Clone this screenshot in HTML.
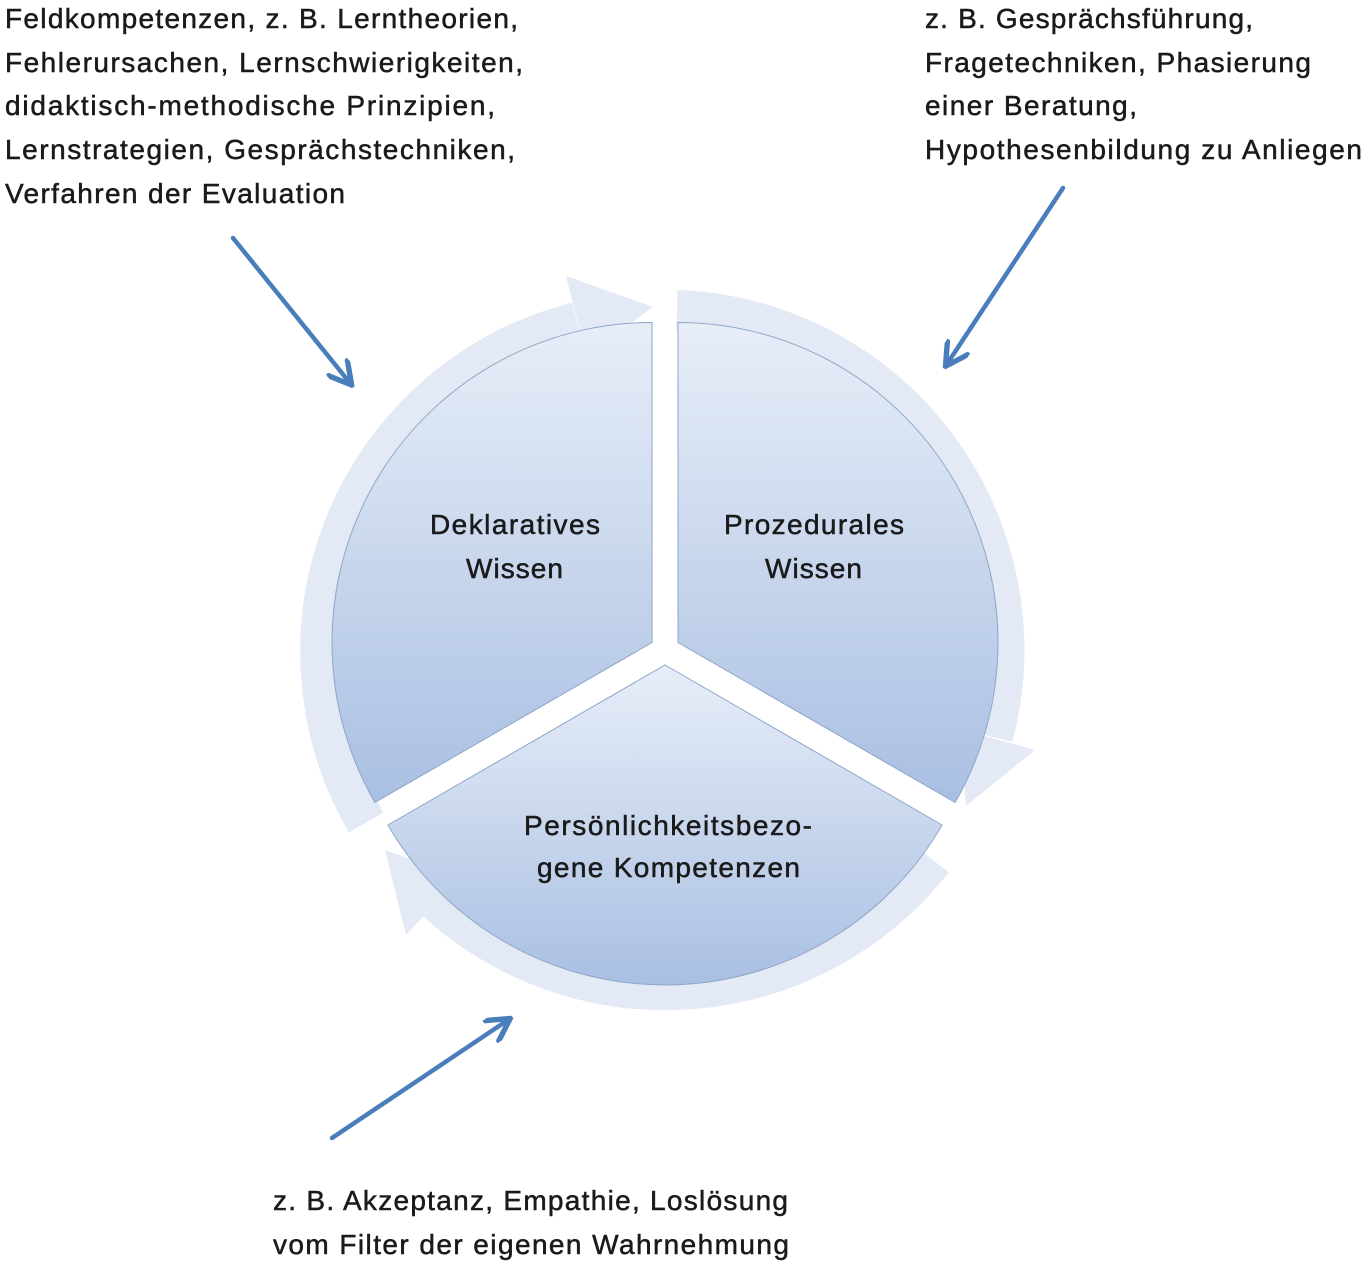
<!DOCTYPE html>
<html><head><meta charset="utf-8"><style>
html,body{margin:0;padding:0;background:#fff}
svg{display:block}
text{font-family:"Liberation Sans",sans-serif;fill:#1a1a1a;stroke:#1a1a1a;stroke-width:0.5}
</style></head><body>
<svg width="1370" height="1265" viewBox="0 0 1370 1265" xmlns="http://www.w3.org/2000/svg">
<defs>
<linearGradient id="g" x1="0" y1="0" x2="0" y2="1">
<stop offset="0" stop-color="#e8eef8"/><stop offset="1" stop-color="#a9bfe2"/>
</linearGradient>
<marker id="ah" viewBox="0 0 10 10" refX="8" refY="5" markerWidth="6" markerHeight="6" orient="auto" markerUnits="strokeWidth">
<path d="M0,0 L9,5 L0,10" fill="none" stroke="#4a7ebb" stroke-width="2"/>
</marker>
</defs>

<g fill="#e3eaf5" stroke="none">
<path d="M366.2,822.5 A340,340 0 0 1 577,322" fill="none" stroke="#e3eaf5" stroke-width="40"/>
<polygon points="586.1,355.4 653,307 566,276"/>
<path d="M677,310 A340,340 0 0 1 993,737" fill="none" stroke="#e3eaf5" stroke-width="40"/>
<polygon points="959.6,728.9 966,806 1035,750"/>
<path d="M933,860 A340,340 0 0 1 437,902" fill="none" stroke="#e3eaf5" stroke-width="40"/>
<polygon points="460.9,876.6 385,850 406,935"/>
</g>

<g fill="url(#g)" stroke="#8fa6c8" stroke-width="1">
<path d="M652,642.5 L374.9,802.5 A320,320 0 0 1 652,322.5 Z"/>
<path d="M678,642.5 L678,322.5 A320,320 0 0 1 955.1,802.5 Z"/>
<path d="M665,665 L942.1,825 A320,320 0 0 1 387.9,825 Z"/>
</g>

<g font-size="28" lengthAdjust="spacingAndGlyphs">
<text x="430" y="534" textLength="170">Deklaratives</text>
<text x="466" y="578" textLength="97">Wissen</text>
<text x="724" y="534" textLength="180">Prozedurales</text>
<text x="765" y="578" textLength="97">Wissen</text>
<text x="524" y="835" textLength="288">Persönlichkeitsbezo-</text>
<text x="537" y="877" textLength="263">gene Kompetenzen</text>

<text x="5" y="28" textLength="513">Feldkompetenzen, z. B. Lerntheorien,</text>
<text x="5" y="72" textLength="518">Fehlerursachen, Lernschwierigkeiten,</text>
<text x="5" y="115" textLength="490">didaktisch-methodische Prinzipien,</text>
<text x="5" y="159" textLength="510">Lernstrategien, Gesprächstechniken,</text>
<text x="5" y="203" textLength="340">Verfahren der Evaluation</text>
<text x="925" y="28" textLength="328">z. B. Gesprächsführung,</text>
<text x="925" y="72" textLength="386">Fragetechniken, Phasierung</text>
<text x="925" y="115" textLength="212">einer Beratung,</text>
<text x="925" y="159" textLength="437">Hypothesenbildung zu Anliegen</text>
<text x="273" y="1210" textLength="515">z. B. Akzeptanz, Empathie, Loslösung</text>
<text x="273" y="1254" textLength="516">vom Filter der eigenen Wahrnehmung</text>
</g>

<g stroke="#4a7ebb" stroke-width="4.5" stroke-linecap="round" fill="none">
<line x1="233" y1="238" x2="350" y2="383" marker-end="url(#ah)"/>
<line x1="1063" y1="188" x2="947" y2="364" marker-end="url(#ah)"/>
<line x1="332" y1="1138" x2="508" y2="1020" marker-end="url(#ah)"/>
</g>
</svg>
</body></html>
